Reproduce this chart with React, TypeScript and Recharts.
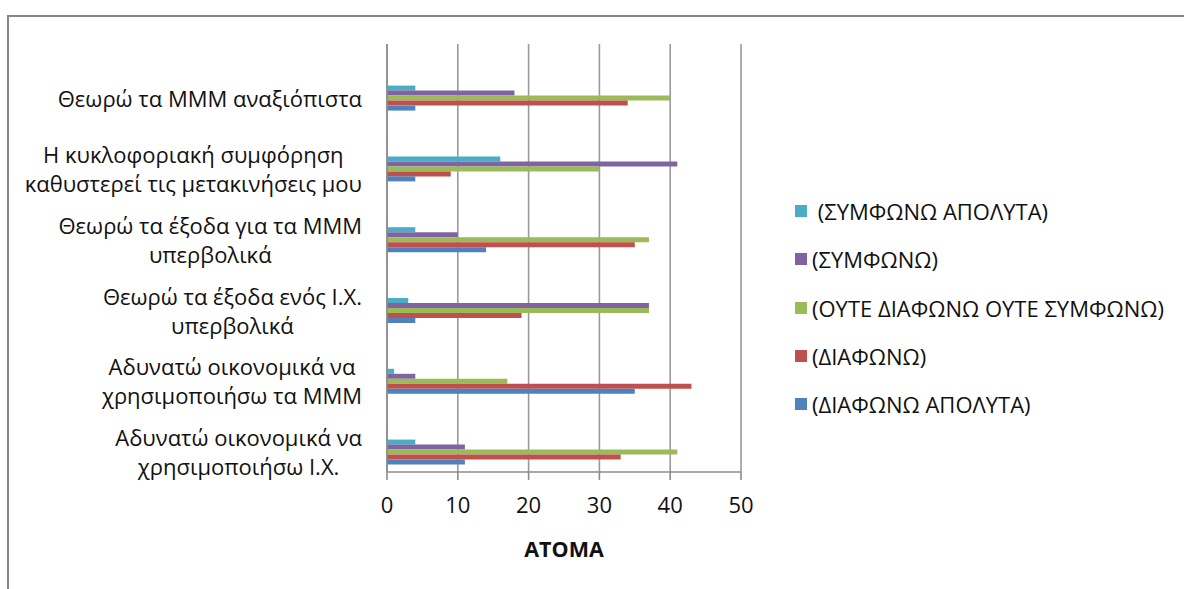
import React from "react";
import { BarChart, Bar, XAxis, YAxis, CartesianGrid } from "recharts";

const categories = [
    "Θεωρώ τα ΜΜΜ αναξιόπιστα",
    "Η κυκλοφοριακή συμφόρηση\nκαθυστερεί τις μετακινήσεις μου",
    "Θεωρώ τα έξοδα για τα ΜΜΜ\nυπερβολικά",
    "Θεωρώ τα έξοδα ενός Ι.Χ.\nυπερβολικά",
    "Αδυνατώ οικονομικά να\nχρησιμοποιήσω τα ΜΜΜ",
    "Αδυνατώ οικονομικά να\nχρησιμοποιήσω Ι.Χ.",
];

const symfonoApolyta = [4, 16, 4, 3, 1, 4];
const symfono = [18, 41, 10, 37, 4, 11];
const oute = [40, 30, 37, 37, 17, 41];
const diafono = [34, 9, 35, 19, 43, 33];
const diafonoApolyta = [4, 4, 14, 4, 35, 11];

const xTicks = [0, 10, 20, 30, 40, 50];

const series = [
    { key: "sa", name: " (ΣΥΜΦΩΝΩ ΑΠΟΛΥΤΑ)", color: "#4BACC6", values: symfonoApolyta },
    { key: "s", name: "(ΣΥΜΦΩΝΩ)", color: "#8064A2", values: symfono },
    { key: "o", name: "(ΟΥΤΕ ΔΙΑΦΩΝΩ ΟΥΤΕ ΣΥΜΦΩΝΩ)", color: "#9BBB59", values: oute },
    { key: "d", name: "(ΔΙΑΦΩΝΩ)", color: "#C0504D", values: diafono },
    { key: "da", name: "(ΔΙΑΦΩΝΩ ΑΠΟΛΥΤΑ)", color: "#4F81BD", values: diafonoApolyta },
];

const data = categories.map((label, i) => {
    const row: Record<string, string | number> = { label };
    series.forEach((s) => (row[s.key] = s.values[i]));
    return row;
});

const FONT = "'Open Sans', sans-serif";
const FONT_SIZE = 22;
const TEXT = "#111";

let ctx: CanvasRenderingContext2D | null = null;
const measure = (t: string) => {
    if (!ctx) ctx = document.createElement("canvas").getContext("2d");
    if (!ctx) return t.length * 11;
    ctx.font = `${FONT_SIZE}px 'Open Sans'`;
    return ctx.measureText(t).width;
};

const CategoryTick = (props: any) => {
    const { x, y, payload } = props;
    const lines = String(payload.value).split("\n");
    const maxW = Math.max(...lines.map(measure));
    const cx = x - 17 - maxW / 2;
    const lh = 29;
    const y0 = y - ((lines.length - 1) * lh) / 2;
    return (
        <text textAnchor="middle" fontSize={FONT_SIZE} fontFamily={FONT} fill={TEXT}>
            {lines.map((l, i) => (
                <tspan key={i} x={cx} y={y0 + i * lh} dy="0.35em">
                    {l}
                </tspan>
            ))}
        </text>
    );
};

export default function App() {
    return (
        <div style={{ position: "absolute", left: 0, top: 0, width: 1184, height: 589, background: "#fff", fontFamily: FONT }}>
            <div
                style={{
                    position: "absolute",
                    left: 7,
                    top: 15,
                    right: -10,
                    bottom: -10,
                    borderTop: "2px solid #868686",
                    borderLeft: "2px solid #868686",
                }}
            />
            <BarChart
                width={1184}
                height={589}
                data={data}
                layout="vertical"
                margin={{ top: 44, right: 443, bottom: 0, left: 17 }}
                barCategoryGap={22}
                barGap={0}
                style={{ position: "absolute", left: 0, top: 0 }}
            >
                <CartesianGrid horizontal={false} stroke="#9a9a9a" strokeWidth={1.6} />
                <XAxis
                    type="number"
                    domain={[0, 50]}
                    ticks={xTicks}
                    interval={0}
                    height={117}
                    axisLine={{ stroke: "#8c8c8c", strokeWidth: 1.6 }}
                    tickLine={{ stroke: "#8c8c8c", strokeWidth: 1.6 }}
                    tickSize={8}
                    tickMargin={17}
                    tick={{ fill: TEXT, fontSize: FONT_SIZE, fontFamily: FONT }}
                    label={{
                        value: "ΑΤΟΜΑ",
                        position: "insideBottom",
                        offset: 32,
                        fill: TEXT,
                        fontSize: 21.5,
                        fontWeight: 700,
                        fontFamily: FONT,
                    }}
                />
                <YAxis
                    type="category"
                    dataKey="label"
                    width={370}
                    padding={{ top: 19.6, bottom: -16.4 }}
                    axisLine={{ stroke: "#8c8c8c", strokeWidth: 1.6 }}
                    tickLine={false}
                    tick={<CategoryTick />}
                    interval={0}
                />
                {series.map((s) => (
                    <Bar key={s.key} dataKey={s.key} name={s.name} fill={s.color} isAnimationActive={false} />
                ))}
            </BarChart>
            {series.map((s, i) => (
                <div
                    key={s.key}
                    style={{
                        position: "absolute",
                        left: 795,
                        top: 211 + i * 48.3 - 15,
                        height: 30,
                        display: "flex",
                        alignItems: "center",
                        fontSize: FONT_SIZE,
                        color: TEXT,
                        whiteSpace: "pre",
                    }}
                >
                    <span style={{ width: 12, height: 12, background: s.color, display: "inline-block", marginRight: 5 }} />
                    <span>{s.name}</span>
                </div>
            ))}
        </div>
    );
}
